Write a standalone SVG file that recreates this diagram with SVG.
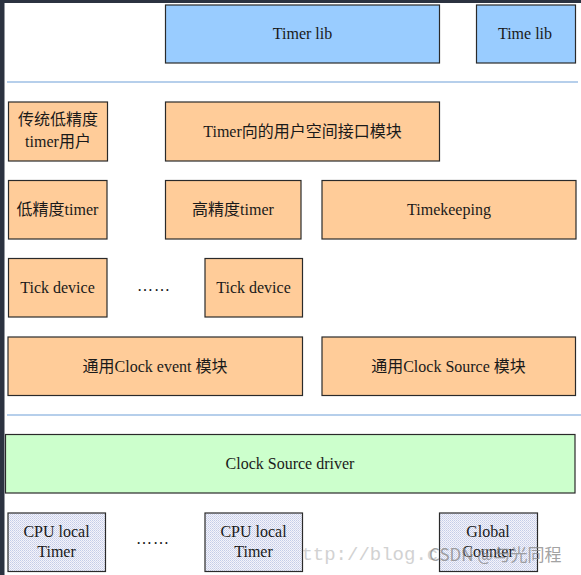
<svg xmlns="http://www.w3.org/2000/svg" width="581" height="575" viewBox="0 0 581 575">
<defs>
<pattern id="dither" width="2" height="2" patternUnits="userSpaceOnUse">
<rect width="2" height="2" fill="#f4f4fa"/>
<rect width="1" height="1" fill="#c4cce8"/>
<rect x="1" y="1" width="1" height="1" fill="#d4d8ee"/>
</pattern>
<style>
.box{stroke:#2a2a2a;stroke-width:1.2}
.blue{fill:#99ccff}
.orange{fill:#ffcc99}
.green{fill:#ccffcc}
.gray{fill:url(#dither)}
.t{font-family:"Liberation Serif","Noto Sans CJK SC",serif;font-size:16px;fill:#1a1a1a;text-anchor:middle}
.sep{stroke:#6f9fd8;stroke-width:1.2}
.dots{font-family:"Liberation Serif",serif;font-size:16px;fill:#111;letter-spacing:1px}
</style>
</defs>
<rect x="0" y="0" width="581" height="575" fill="#ffffff"/>
<rect x="0" y="0" width="581" height="3" fill="#2b3240"/>
<rect x="0" y="0" width="4.5" height="575" fill="#2b3240"/>

<g id="connectors">
<line class="sep" x1="7" y1="82" x2="578" y2="82"/>
<line class="sep" x1="7" y1="415" x2="581" y2="415"/>
</g>

<g id="timer-lib"><rect class="box blue" x="165.5" y="5" width="274" height="58"/><text class="t" x="302.5" y="39">Timer lib</text></g>
<g id="time-lib"><rect class="box blue" x="476.5" y="5" width="99" height="58"/><text class="t" x="525" y="39">Time lib</text></g>

<g id="legacy-user"><rect class="box orange" x="8.5" y="102" width="99" height="59"/><text class="t" x="58" y="125">传统低精度</text><text class="t" x="58" y="147">timer用户</text></g>
<g id="user-interface"><rect class="box orange" x="165.5" y="102" width="274" height="59"/><text class="t" x="302.5" y="137">Timer向的用户空间接口模块</text></g>

<g id="low-res"><rect class="box orange" x="8.5" y="180.5" width="98.5" height="58.5"/><text class="t" x="57.5" y="215">低精度timer</text></g>
<g id="high-res"><rect class="box orange" x="165.5" y="180.5" width="135.5" height="58.5"/><text class="t" x="233" y="215">高精度timer</text></g>
<g id="timekeeping"><rect class="box orange" x="322" y="180.5" width="254" height="58.5"/><text class="t" x="449" y="215">Timekeeping</text></g>

<g id="tick1"><rect class="box orange" x="8.5" y="258.5" width="98.5" height="58.5"/><text class="t" x="57.5" y="293">Tick device</text></g>
<text class="dots" x="137" y="291">……</text>
<g id="tick2"><rect class="box orange" x="205" y="258.5" width="97.5" height="58.5"/><text class="t" x="253.5" y="293">Tick device</text></g>

<g id="clock-event"><rect class="box orange" x="8" y="337" width="294.5" height="58.5"/><text class="t" x="155" y="371.5">通用Clock event 模块</text></g>
<g id="clock-source"><rect class="box orange" x="322" y="337" width="253.5" height="58.5"/><text class="t" x="448.5" y="371.5">通用Clock Source 模块</text></g>

<g id="driver"><rect class="box green" x="5.5" y="434.5" width="569.5" height="58.5"/><text class="t" x="290" y="469">Clock Source driver</text></g>

<text x="290" y="560" font-family="Liberation Mono, monospace" font-size="19" fill="#d2d2d2">http://blog.cs</text>

<g id="cpu-timer1"><rect class="box gray" x="8" y="513" width="97.5" height="58.5"/><text class="t" x="56.5" y="537">CPU local</text><text class="t" x="56.5" y="557">Timer</text></g>
<text class="dots" x="136" y="544">……</text>
<g id="cpu-timer2"><rect class="box gray" x="205" y="513" width="97.5" height="58.5"/><text class="t" x="253.5" y="537">CPU local</text><text class="t" x="253.5" y="557">Timer</text></g>
<g id="global-counter"><rect class="box gray" x="439.5" y="513" width="98" height="58.5"/><text class="t" x="488" y="537">Global</text><text class="t" x="488" y="557">Counter</text></g>

<text x="429" y="561" font-family="Noto Sans CJK SC, sans-serif" font-size="17" fill="#8a8a8a" fill-opacity="0.8">CSDN @与光同程</text>
</svg>
